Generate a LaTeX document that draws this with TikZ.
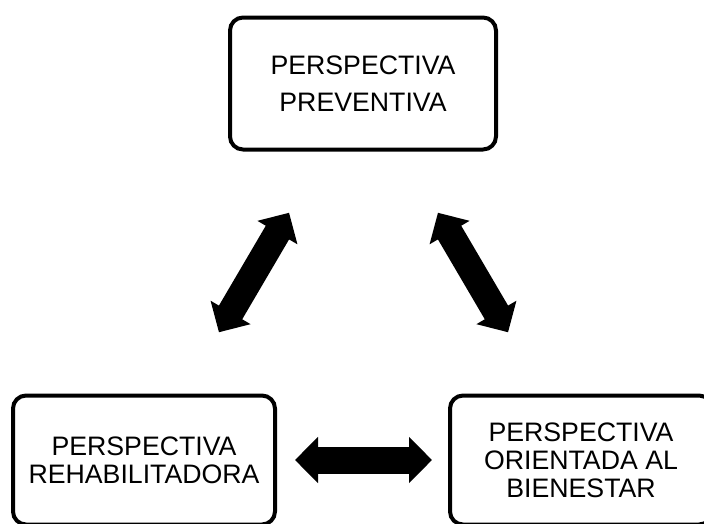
\documentclass[tikz,border=0pt]{standalone}
\usepackage{fontspec}
\setmainfont{Liberation Sans}
\usetikzlibrary{arrows.meta}
\newcommand{\boxline}{4pt}
\newcommand{\arrline}{27pt}

\begin{document}
\begin{tikzpicture}[x=1pt,y=-1pt]
            %\draw[help lines] (0,0) grid (704,523);
            \clip (0,0) rectangle (704,523);
            \tikzset{PerspBox/.style = {draw, line width=\boxline, rounded corners=13pt, align=center, minimum width=262pt, minimum height=129pt, inner sep=0pt, font=\fontsize{26.7}{28}\selectfont}}
            \tikzset{DoubleArrow/.style = {line width=\arrline, {Triangle[length=23pt,width=45pt]}-{Triangle[length=23pt,width=45pt]}}}
            \node[PerspBox, minimum width=266pt, minimum height=132pt, font=\fontsize{26.7}{37}\selectfont] (prev) at (363,83.5) {PERSPECTIVA\\PREVENTIVA};
            \node[PerspBox] (rehab) at (144,460) {PERSPECTIVA\\REHABILITADORA};
            \node[PerspBox] (bien) at (581,460) {PERSPECTIVA\\ORIENTADA AL\\BIENESTAR};
            \draw[DoubleArrow, shorten <=71pt, shorten >=71pt] ([xshift=-38pt]prev.south) -- ([xshift=39pt]rehab.north);
            \draw[DoubleArrow, shorten <=71pt, shorten >=71pt] ([xshift=39pt]prev.south) -- ([xshift=-37pt]bien.north);
            \draw[DoubleArrow, shorten <=18pt, shorten >=16pt] (rehab.east) -- (bien.west);
        \end{tikzpicture}
\end{document}
